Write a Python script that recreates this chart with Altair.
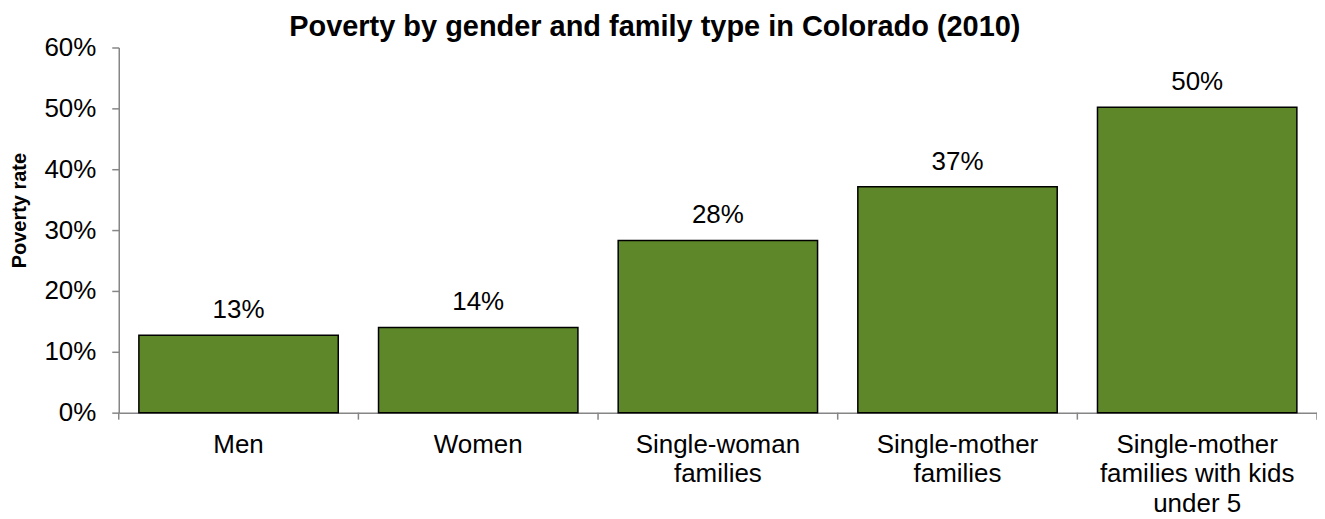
import altair as alt
import pandas as pd

categories = ["Men", "Women", "Single-woman\nfamilies", "Single-mother\nfamilies",
              "Single-mother\nfamilies with kids\nunder 5"]
rates = [12.7, 14.0, 28.3, 37.1, 50.2]
y_ticks = [0, 10, 20, 30, 40, 50, 60]

df = pd.DataFrame({"category": categories, "rate": rates})

W, H = 1201, 366
FONT = "Liberation Sans"
AXIS_GREY = "#868686"
BAR_GREEN = "#5E8729"

x_enc = alt.X(
    "category:N", sort=categories,
    scale=alt.Scale(paddingInner=0, paddingOuter=0),
    axis=alt.Axis(title=None, labelAngle=0, labelExpr="split(datum.label, '\\n')",
                  ticks=False, tickSize=0, labelPadding=19, labelFontSize=26,
                  labelFont=FONT, labelColor="#000000", labelLineHeight=29.5,
                  labelLimit=400, domainColor=AXIS_GREY, domainWidth=1.5),
)
y_enc = alt.Y(
    "rate:Q", scale=alt.Scale(domain=[0, 60], nice=False),
    axis=alt.Axis(title="Poverty rate", values=y_ticks, labelExpr="datum.value + '%'",
                  grid=False, tickSize=7, tickColor=AXIS_GREY, tickWidth=1.5,
                  domainColor=AXIS_GREY, domainWidth=1.5, labelPadding=16,
                  labelFontSize=26, labelFont=FONT, labelColor="#000000",
                  titleFont=FONT, titleFontSize=20, titleFontWeight="bold",
                  titleColor="#000000", titlePadding=14, titleY=163),
)

base = alt.Chart(df)

bars = base.mark_bar(width={"band": 0.832}, color=BAR_GREEN, stroke="#000000",
                     strokeWidth=1.5).encode(x=x_enc, y=y_enc)

labels = base.transform_calculate(
    lab="format(datum.rate, '.0f') + '%'"
).mark_text(baseline="alphabetic", dy=-17, fontSize=26, font=FONT, color="#000000").encode(
    x=alt.X("category:N", sort=categories), y="rate:Q", text="lab:N")

ticks = base.mark_rule(color=AXIS_GREY, strokeWidth=1.5).encode(
    x=alt.X("category:N", sort=categories, bandPosition=0),
    y=alt.value(H), y2=alt.value(H + 7))

end_tick = alt.Chart(pd.DataFrame({"e": [0]})).mark_rule(
    color=AXIS_GREY, strokeWidth=1.5).encode(
    x=alt.value(W), y=alt.value(H), y2=alt.value(H + 7))

chart = alt.layer(bars, labels, ticks, end_tick).properties(
    width=W, height=H,
    title=alt.TitleParams("Poverty by gender and family type in Colorado (2010)",
                          font=FONT, fontSize=29, fontWeight="bold", color="#000000",
                          anchor="middle", frame="bounds", offset=0, dy=7, dx=-9),
    autosize=alt.AutoSizeParams(type="none"),
    padding={"left": 111, "top": 39, "right": 0, "bottom": 106},
).configure_view(stroke=None)

chart.save("out.html", embed_options={"renderer": "svg", "actions": False})
